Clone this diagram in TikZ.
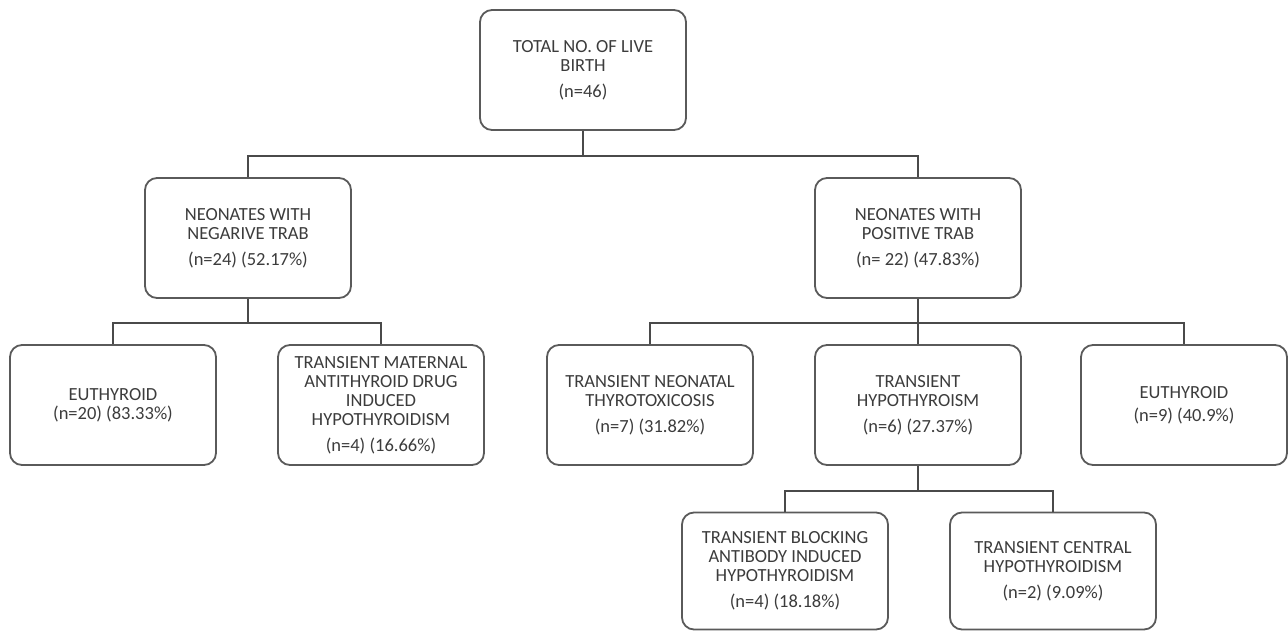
\documentclass[tikz,border=0pt]{standalone}
\usepackage{fontspec}
\setmainfont{Carlito}
\definecolor{boxc}{HTML}{5A5A5A}
\definecolor{linec}{HTML}{4A4A4A}
\definecolor{txtc}{HTML}{3C3C3C}
\begin{document}
\begin{tikzpicture}[x=1pt,y=-1pt,
  box/.style={draw=boxc, line width=1.8pt, rounded corners=12pt,
    minimum width=206pt, minimum height=120pt, align=center, text=txtc,
    font=\fontsize{18.5}{19}\selectfont, inner sep=2pt},
  lowbox/.style={box, minimum height=117pt},
  link/.style={draw=linec, line width=1.8pt}]
\useasboundingbox (0,0) rectangle (1288,632);
\fill[white] (0,0) rectangle (1288,632);
\node[box] (top) at (583,70) {TOTAL NO. OF LIVE\\BIRTH\\[7pt](n=46)};
\node[box] (neg) at (248,238) {NEONATES WITH\\NEGARIVE TRAB\\[7pt](n=24) (52.17\%)};
\node[box] (pos) at (918,238) {NEONATES WITH\\POSITIVE TRAB\\[7pt](n= 22) (47.83\%)};
\node[box] (e1) at (113,405) {EUTHYROID\\(n=20) (83.33\%)};
\node[box] (tmad) at (381,405) {TRANSIENT MATERNAL\\ANTITHYROID DRUG\\INDUCED\\HYPOTHYROIDISM\\[7pt](n=4) (16.66\%)};
\node[box] (tnt) at (650,405) {TRANSIENT NEONATAL\\THYROTOXICOSIS\\[7pt](n=7) (31.82\%)};
\node[box] (th) at (918,405) {TRANSIENT\\HYPOTHYROISM\\[7pt](n=6) (27.37\%)};
\node[box] (e2) at (1184,405) {EUTHYROID\\[4pt](n=9) (40.9\%)};
\node[lowbox] (tba) at (785,571) {TRANSIENT BLOCKING\\ANTIBODY INDUCED\\HYPOTHYROIDISM\\[7pt](n=4) (18.18\%)};
\node[lowbox] (tch) at (1053,571) {TRANSIENT CENTRAL\\HYPOTHYROIDISM\\[7pt](n=2) (9.09\%)};
\draw[link] (top.south) -- ++(0,25) coordinate (h1);
\draw[link] (neg.north) |- (h1) -| (pos.north);
\draw[link] (neg.south) -- ++(0,24) coordinate (h2);
\draw[link] (e1.north) |- (h2) -| (tmad.north);
\draw[link] (pos.south) -- ++(0,24) coordinate (h3) -- (th.north);
\draw[link] (tnt.north) |- (h3) -| (e2.north);
\draw[link] (th.south) -- ++(0,25) coordinate (h4);
\draw[link] (tba.north) |- (h4) -| (tch.north);
\end{tikzpicture}
\end{document}
